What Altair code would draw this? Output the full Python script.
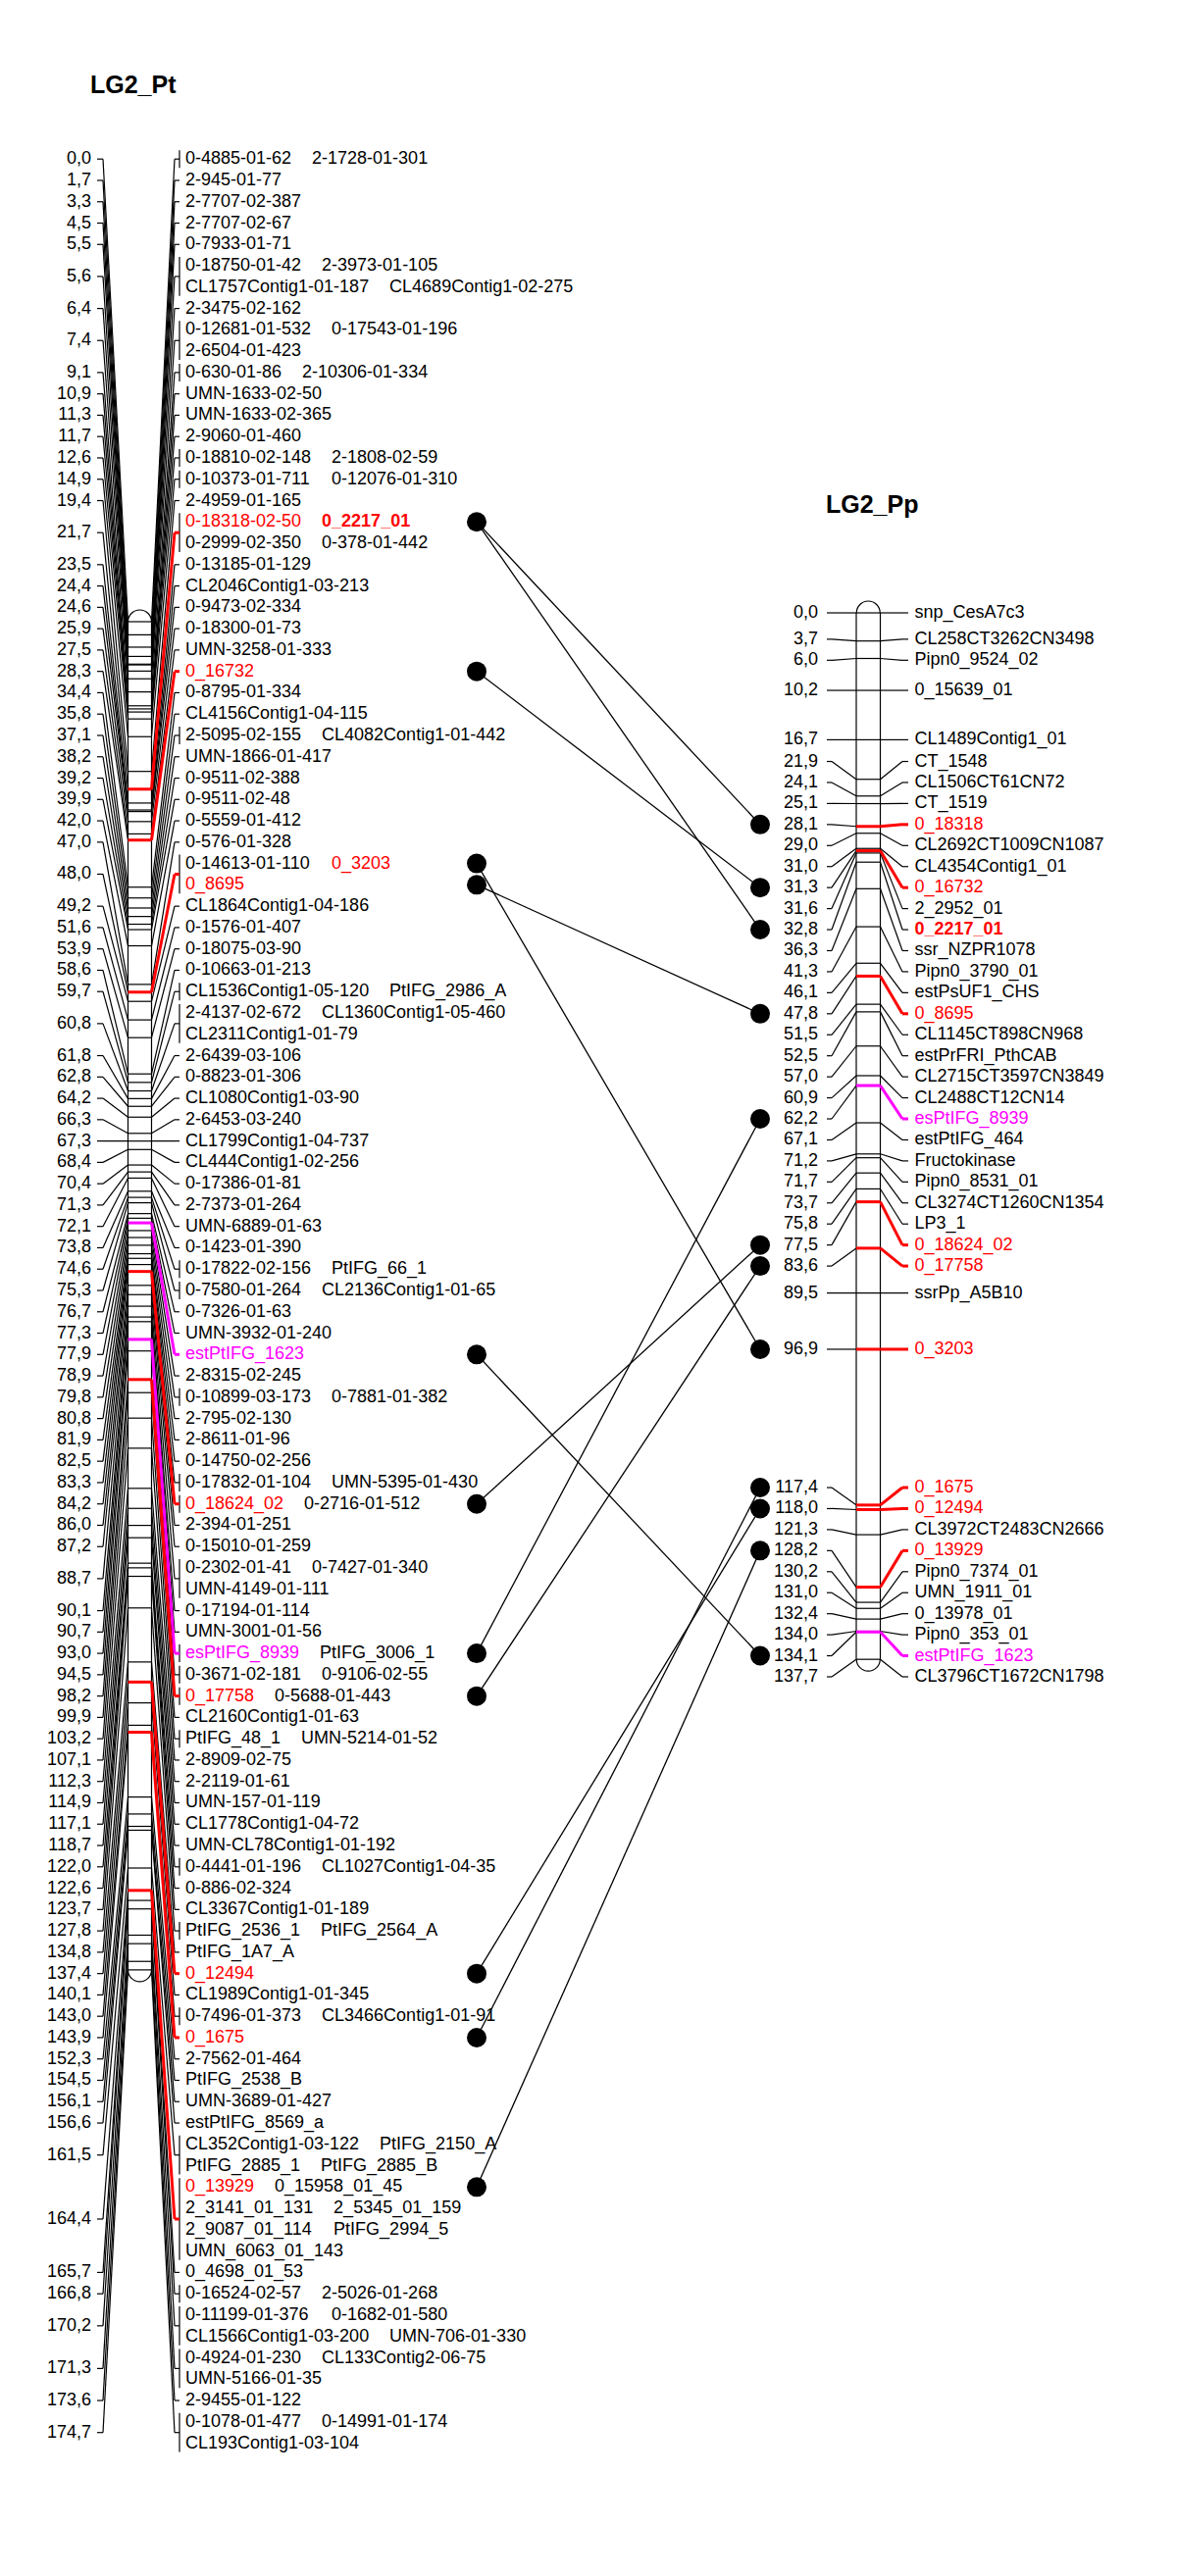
import math
import altair as alt
import pandas as pd

# ---------------- data ----------------
pt_title = "LG2_Pt"
pp_title = "LG2_Pp"

# LG2_Pt : positions (cM) and the markers mapped at each position
pt_pos = [0.0, 1.7, 3.3, 4.5, 5.5, 5.6, 6.4, 7.4, 9.1, 10.9, 11.3, 11.7, 12.6, 14.9, 19.4,
          21.7, 23.5, 24.4, 24.6, 25.9, 27.5, 28.3, 34.4, 35.8, 37.1, 38.2, 39.2, 39.9, 42.0,
          47.0, 48.0, 49.2, 51.6, 53.9, 58.6, 59.7, 60.8, 61.8, 62.8, 64.2, 66.3, 67.3, 68.4,
          70.4, 71.3, 72.1, 73.8, 74.6, 75.3, 76.7, 77.3, 77.9, 78.9, 79.8, 80.8, 81.9, 82.5,
          83.3, 84.2, 86.0, 87.2, 88.7, 90.1, 90.7, 93.0, 94.5, 98.2, 99.9, 103.2, 107.1, 112.3,
          114.9, 117.1, 118.7, 122.0, 122.6, 123.7, 127.8, 134.8, 137.4, 140.1, 143.0, 143.9,
          152.3, 154.5, 156.1, 156.6, 161.5, 164.4, 165.7, 166.8, 170.2, 171.3, 173.6, 174.7]

pt_names = [
    ["0-4885-01-62", "2-1728-01-301"], ["2-945-01-77"], ["2-7707-02-387"], ["2-7707-02-67"],
    ["0-7933-01-71"],
    ["0-18750-01-42", "2-3973-01-105", "CL1757Contig1-01-187", "CL4689Contig1-02-275"],
    ["2-3475-02-162"], ["0-12681-01-532", "0-17543-01-196", "2-6504-01-423"],
    ["0-630-01-86", "2-10306-01-334"], ["UMN-1633-02-50"], ["UMN-1633-02-365"],
    ["2-9060-01-460"], ["0-18810-02-148", "2-1808-02-59"], ["0-10373-01-711", "0-12076-01-310"],
    ["2-4959-01-165"], ["0-18318-02-50", "0_2217_01", "0-2999-02-350", "0-378-01-442"],
    ["0-13185-01-129"], ["CL2046Contig1-03-213"], ["0-9473-02-334"], ["0-18300-01-73"],
    ["UMN-3258-01-333"], ["0_16732"], ["0-8795-01-334"], ["CL4156Contig1-04-115"],
    ["2-5095-02-155", "CL4082Contig1-01-442"], ["UMN-1866-01-417"], ["0-9511-02-388"],
    ["0-9511-02-48"], ["0-5559-01-412"], ["0-576-01-328"],
    ["0-14613-01-110", "0_3203", "0_8695"], ["CL1864Contig1-04-186"], ["0-1576-01-407"],
    ["0-18075-03-90"], ["0-10663-01-213"], ["CL1536Contig1-05-120", "PtIFG_2986_A"],
    ["2-4137-02-672", "CL1360Contig1-05-460", "CL2311Contig1-01-79"], ["2-6439-03-106"],
    ["0-8823-01-306"], ["CL1080Contig1-03-90"], ["2-6453-03-240"], ["CL1799Contig1-04-737"],
    ["CL444Contig1-02-256"], ["0-17386-01-81"], ["2-7373-01-264"], ["UMN-6889-01-63"],
    ["0-1423-01-390"], ["0-17822-02-156", "PtIFG_66_1"], ["0-7580-01-264", "CL2136Contig1-01-65"],
    ["0-7326-01-63"], ["UMN-3932-01-240"], ["estPtIFG_1623"], ["2-8315-02-245"],
    ["0-10899-03-173", "0-7881-01-382"], ["2-795-02-130"], ["2-8611-01-96"], ["0-14750-02-256"],
    ["0-17832-01-104", "UMN-5395-01-430"], ["0_18624_02", "0-2716-01-512"], ["2-394-01-251"],
    ["0-15010-01-259"], ["0-2302-01-41", "0-7427-01-340", "UMN-4149-01-111"],
    ["0-17194-01-114"], ["UMN-3001-01-56"], ["esPtIFG_8939", "PtIFG_3006_1"],
    ["0-3671-02-181", "0-9106-02-55"], ["0_17758", "0-5688-01-443"], ["CL2160Contig1-01-63"],
    ["PtIFG_48_1", "UMN-5214-01-52"], ["2-8909-02-75"], ["2-2119-01-61"], ["UMN-157-01-119"],
    ["CL1778Contig1-04-72"], ["UMN-CL78Contig1-01-192"], ["0-4441-01-196", "CL1027Contig1-04-35"],
    ["0-886-02-324"], ["CL3367Contig1-01-189"], ["PtIFG_2536_1", "PtIFG_2564_A"],
    ["PtIFG_1A7_A"], ["0_12494"], ["CL1989Contig1-01-345"], ["0-7496-01-373", "CL3466Contig1-01-91"],
    ["0_1675"], ["2-7562-01-464"], ["PtIFG_2538_B"], ["UMN-3689-01-427"], ["estPtIFG_8569_a"],
    ["CL352Contig1-03-122", "PtIFG_2150_A", "PtIFG_2885_1", "PtIFG_2885_B"],
    ["0_13929", "0_15958_01_45", "2_3141_01_131", "2_5345_01_159", "2_9087_01_114",
     "PtIFG_2994_5", "UMN_6063_01_143"],
    ["0_4698_01_53"], ["0-16524-02-57", "2-5026-01-268"],
    ["0-11199-01-376", "0-1682-01-580", "CL1566Contig1-03-200", "UMN-706-01-330"],
    ["0-4924-01-230", "CL133Contig2-06-75", "UMN-5166-01-35"], ["2-9455-01-122"],
    ["0-1078-01-477", "0-14991-01-174", "CL193Contig1-03-104"],
]

# LG2_Pp
pp_pos = [0.0, 3.7, 6.0, 10.2, 16.7, 21.9, 24.1, 25.1, 28.1, 29.0, 31.0, 31.3, 31.6, 32.8,
          36.3, 41.3, 46.1, 47.8, 51.5, 52.5, 57.0, 60.9, 62.2, 67.1, 71.2, 71.7, 73.7, 75.8,
          77.5, 83.6, 89.5, 96.9, 117.4, 118.0, 121.3, 128.2, 130.2, 131.0, 132.4, 134.0,
          134.1, 137.7]
pp_names = [
    ["snp_CesA7c3"], ["CL258CT3262CN3498"], ["Pipn0_9524_02"], ["0_15639_01"],
    ["CL1489Contig1_01"], ["CT_1548"], ["CL1506CT61CN72"], ["CT_1519"], ["0_18318"],
    ["CL2692CT1009CN1087"], ["CL4354Contig1_01"], ["0_16732"], ["2_2952_01"], ["0_2217_01"],
    ["ssr_NZPR1078"], ["Pipn0_3790_01"], ["estPsUF1_CHS"], ["0_8695"], ["CL1145CT898CN968"],
    ["estPrFRI_PthCAB"], ["CL2715CT3597CN3849"], ["CL2488CT12CN14"], ["esPtIFG_8939"],
    ["estPtIFG_464"], ["Fructokinase"], ["Pipn0_8531_01"], ["CL3274CT1260CN1354"], ["LP3_1"],
    ["0_18624_02"], ["0_17758"], ["ssrPp_A5B10"], ["0_3203"], ["0_1675"], ["0_12494"],
    ["CL3972CT2483CN2666"], ["0_13929"], ["Pipn0_7374_01"], ["UMN_1911_01"], ["0_13978_01"],
    ["Pipn0_353_01"], ["estPtIFG_1623"], ["CL3796CT1672CN1798"],
]

red_markers = ["0-18318-02-50", "0_18318", "0_16732", "0_3203", "0_8695", "0_18624_02",
               "0_17758", "0_12494", "0_1675", "0_13929"]
magenta_markers = ["estPtIFG_1623", "esPtIFG_8939"]
bold_markers = ["0_2217_01"]

# homologous markers linked between the two maps
link_pt = ["0-18318-02-50", "0_2217_01", "0_16732", "0_3203", "0_8695", "estPtIFG_1623",
           "0_18624_02", "esPtIFG_8939", "0_17758", "0_12494", "0_1675", "0_13929"]
link_pp = ["0_18318", "0_2217_01", "0_16732", "0_3203", "0_8695", "estPtIFG_1623",
           "0_18624_02", "esPtIFG_8939", "0_17758", "0_12494", "0_1675", "0_13929"]

assert len(pt_pos) == len(pt_names) and len(pp_pos) == len(pp_names)

# ---------------- layout ----------------
FONT = "Liberation Sans"
FS = 18
RED, MAG, BLK = "#ff0000", "#ff00ff", "#000000"
THIN, THICK = 1.2, 3.0

PT = dict(y0=634.0, k=7.87, row=21.77, lab_r=93, stub0=99, stub1=105, c0=130.5, c1=154.5,
          d1=178, br=183, txt=189, dot=486, title=(92, 87))
PP = dict(y0=625.0, k=7.75, row=21.44, lab_r=834, stub0=843, stub1=848, c0=873, c1=897.5,
          d1=920, br=926, txt=932.5, dot=775, title=(842, 515))

_W = {c: 556 for c in "0123456789"}
_W.update({"-": 333, "_": 556, " ": 278, ",": 278})
_W.update(dict(A=667, B=667, C=722, D=722, E=667, F=611, G=778, H=722, I=278, J=500, K=667,
               L=556, M=833, N=722, O=778, P=667, Q=778, R=722, S=667, T=611, U=722, V=667,
               W=944, X=667, Y=667, Z=611))
_W.update(dict(a=556, b=556, c=500, d=556, e=556, f=278, g=556, h=556, i=222, j=222, k=500,
               l=222, m=833, n=556, o=556, p=556, q=556, r=333, s=500, t=278, u=556, v=500,
               w=722, x=500, y=500, z=500))


def text_w(s, size=FS):
    return sum(_W.get(c, 556) for c in s) * size / 1000.0


def spread(true_y, heights, tol=1.0):
    """Push overlapping label groups apart with top-down sweeps; each cluster is
    centred on the midpoint of the true positions of its first and last member."""
    n = len(true_y)
    pos = list(true_y)
    clusters = [[i, i] for i in range(n)]

    def place(a, b):
        offs = [0.0]
        for q in range(a + 1, b + 1):
            offs.append(offs[-1] + (heights[q - 1] + heights[q]) / 2.0)
        mid = (true_y[a] + true_y[b]) / 2.0
        for j, q in enumerate(range(a, b + 1)):
            pos[q] = mid - offs[-1] / 2.0 + offs[j]

    def overlap(c1, c2):
        return (pos[c1[1]] + heights[c1[1]] / 2.0) - (pos[c2[0]] - heights[c2[0]] / 2.0) > tol

    changed = True
    while changed:
        changed = False
        new = [clusters[0]]
        for c in clusters[1:]:
            last = new[-1]
            if overlap(last, c):
                merged = [last[0], c[1]]
                place(*merged)
                new[-1] = merged
                changed = True
            else:
                new.append(c)
        clusters = new
    return pos


def colour_of(name):
    if name in red_markers or name in bold_markers:
        return RED
    if name in magenta_markers:
        return MAG
    return BLK


def build_map(pos, names, P):
    segs, labels, texts, marker_y = [], [], [], {}
    rows = [math.ceil(len(g) / 2) for g in names]
    heights = [r * P["row"] for r in rows]
    true_y = [P["y0"] + p * P["k"] for p in pos]
    cy = spread(true_y, heights)
    cx = (P["c0"] + P["c1"]) / 2.0
    # chromosome outline
    segs.append(dict(x=P["c0"], y=true_y[0], x2=P["c0"], y2=true_y[-1], col=BLK, w=THIN))
    segs.append(dict(x=P["c1"], y=true_y[0], x2=P["c1"], y2=true_y[-1], col=BLK, w=THIN))
    caps = [dict(x=cx, y=true_y[0], end="top"), dict(x=cx, y=true_y[-1], end="bottom")]
    for i, grp in enumerate(names):
        if any(m in red_markers for m in grp):
            gcol = RED
        elif any(m in magenta_markers for m in grp):
            gcol = MAG
        else:
            gcol = BLK
        gw = THICK if gcol != BLK else THIN
        ty, ly = true_y[i], cy[i]
        segs.append(dict(x=P["c0"], y=ty, x2=P["c1"], y2=ty, col=gcol, w=gw))
        segs.append(dict(x=P["stub0"], y=ly, x2=P["stub1"], y2=ly, col=BLK, w=THIN))
        segs.append(dict(x=P["stub1"], y=ly, x2=P["c0"], y2=ty, col=BLK, w=THIN))
        segs.append(dict(x=P["c1"], y=ty, x2=P["d1"], y2=ly, col=gcol, w=gw))
        segs.append(dict(x=P["d1"], y=ly, x2=P["br"], y2=ly, col=gcol, w=gw))
        labels.append(dict(x=P["lab_r"], y=ly, text=f"{pos[i]:.1f}".replace(".", ",")))
        nr = rows[i]
        first = ly - (nr - 1) / 2.0 * P["row"]
        if len(grp) > 1:
            segs.append(dict(x=P["br"], y=first - 9, x2=P["br"],
                             y2=first + (nr - 1) * P["row"] + 9, col=BLK, w=THIN))
        for j, m in enumerate(grp):
            r, c = divmod(j, 2)
            yy = first + r * P["row"]
            xx = P["txt"]
            if c == 1:
                xx += text_w(grp[j - 1]) + 21
            texts.append(dict(x=xx, y=yy, text=m, col=colour_of(m),
                              bold=m in bold_markers))
            marker_y[m] = yy
    return segs, labels, texts, caps, marker_y


pt_segs, pt_labels, pt_texts, pt_caps, pt_my = build_map(pt_pos, pt_names, PT)
pp_segs, pp_labels, pp_texts, pp_caps, pp_my = build_map(pp_pos, pp_names, PP)

links, dots = [], []
for a, b in zip(link_pt, link_pp):
    links.append(dict(x=PT["dot"], y=pt_my[a], x2=PP["dot"], y2=pp_my[b], col=BLK, w=1.3))
for y in sorted(set(pt_my[a] for a in link_pt)):
    dots.append(dict(x=PT["dot"], y=y))
for b in link_pp:
    dots.append(dict(x=PP["dot"], y=pp_my[b]))

segs = pd.DataFrame(pt_segs + pp_segs + links)
segs = segs.sort_values("w", kind="stable")
labels = pd.DataFrame(pt_labels + pp_labels)
texts = pd.DataFrame(pt_texts + pp_texts)
caps = pd.DataFrame(pt_caps + pp_caps)
dots_df = pd.DataFrame(dots)
titles = pd.DataFrame([dict(x=PT["title"][0], y=PT["title"][1], text=pt_title),
                       dict(x=PP["title"][0], y=PP["title"][1], text=pp_title)])

# ---------------- chart ----------------
W, H = 1184, 2611
xs = alt.Scale(domain=[8, 8 + W], nice=False, zero=False)
ys = alt.Scale(domain=[8, 8 + H], nice=False, zero=False, reverse=True)
X = lambda f="x": alt.X(f + ":Q", scale=xs, axis=None)
Y = lambda f="y": alt.Y(f + ":Q", scale=ys, axis=None)

seg_layer = alt.Chart(segs).mark_rule(strokeCap="butt").encode(
    x=X(), y=Y(), x2="x2:Q", y2="y2:Q",
    color=alt.Color("col:N", scale=None),
    strokeWidth=alt.StrokeWidth("w:Q", scale=None),
)

top_caps = alt.Chart(caps).transform_filter(alt.datum.end == "top").mark_arc(
    radius=12.6, innerRadius=11.4, theta=1.5 * math.pi, theta2=2.5 * math.pi, color=BLK
).encode(x=X(), y=Y())
bot_caps = alt.Chart(caps).transform_filter(alt.datum.end == "bottom").mark_arc(
    radius=12.6, innerRadius=11.4, theta=0.5 * math.pi, theta2=1.5 * math.pi, color=BLK
).encode(x=X(), y=Y())

dot_layer = alt.Chart(dots_df).mark_circle(size=400, color=BLK, opacity=1).encode(x=X(), y=Y())

label_layer = alt.Chart(labels).mark_text(
    align="right", baseline="middle", font=FONT, fontSize=FS, color=BLK
).encode(x=X(), y=Y(), text="text:N")

name_layer = alt.Chart(texts).transform_filter(~alt.datum.bold).mark_text(
    align="left", baseline="middle", font=FONT, fontSize=FS
).encode(x=X(), y=Y(), text="text:N", color=alt.Color("col:N", scale=None))

bold_layer = alt.Chart(texts).transform_filter(alt.datum.bold).mark_text(
    align="left", baseline="middle", font=FONT, fontSize=FS, fontWeight="bold"
).encode(x=X(), y=Y(), text="text:N", color=alt.Color("col:N", scale=None))

title_layer = alt.Chart(titles).mark_text(
    align="left", baseline="middle", font=FONT, fontSize=25, fontWeight="bold", color=BLK
).encode(x=X(), y=Y(), text="text:N")

chart = alt.layer(
    seg_layer, top_caps, bot_caps, dot_layer, label_layer, name_layer, bold_layer, title_layer
).properties(width=W, height=H, padding=0, background="white").configure_view(stroke=None)

chart.save("out.html", embed_options={"renderer": "svg", "actions": False})
